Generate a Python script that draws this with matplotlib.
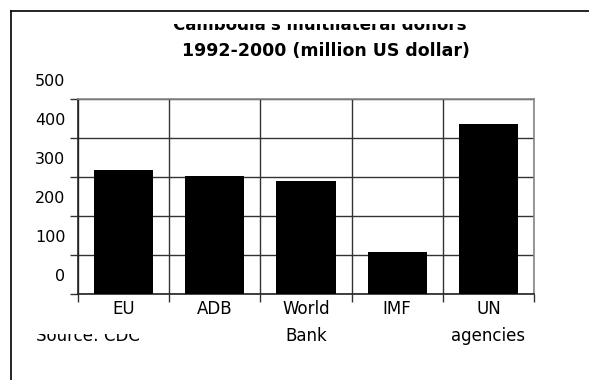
import matplotlib.pyplot as plt
import matplotlib.transforms as mtransforms
from matplotlib.lines import Line2D
import numpy as np

plt.rcParams['font.family'] = 'DejaVu Sans'

donors = ["EU", "ADB", "World\nBank", "IMF", "UN\nagencies"]
amounts = [318, 302, 290, 108, 435]
yticks = [0, 100, 200, 300, 400, 500]

W, H = 589, 380
fig = plt.figure(figsize=(W / 100, H / 100), dpi=100)
ax = fig.add_axes([78 / W, 1 - 294 / H, (534 - 78) / W, (294 - 99) / H])

x = np.arange(len(donors))
ax.bar(x, amounts, width=0.65, color="black", zorder=3)

ax.set_xlim(-0.5, len(donors) - 0.5)
ax.set_ylim(0, 500)

ax.set_xticks(x)
ax.set_xticklabels(donors, fontsize=12, linespacing=1.7)
ax.set_xticks(np.arange(len(donors) + 1) - 0.5, minor=True)
ax.tick_params(axis="x", which="major", length=0, pad=4)
ax.tick_params(axis="x", which="minor", length=6, width=1, color="#333333")

ax.set_yticks(yticks)
ax.set_yticklabels([str(v) for v in yticks], fontsize=11.5)
ax.tick_params(axis="y", length=6, width=1, color="#333333", pad=3)
# the labels sit half a step above their gridlines in the original
offset = mtransforms.ScaledTranslation(0, 0.19, fig.dpi_scale_trans)
for lab in ax.get_yticklabels():
    lab.set_transform(lab.get_transform() + offset)

ax.grid(axis="y", which="major", color="#333333", linewidth=1, zorder=0)
ax.grid(axis="x", which="minor", color="#333333", linewidth=1, zorder=0)

for side in ["top", "right"]:
    ax.spines[side].set_color("#888888")
    ax.spines[side].set_linewidth(1.2)
for side in ["left", "bottom"]:
    ax.spines[side].set_color("#222222")
    ax.spines[side].set_linewidth(1.2)

# outer frame (left and top only)
fig.add_artist(Line2D([11 / W, 11 / W], [0, 1 - 11 / H], transform=fig.transFigure,
                      color="black", linewidth=1.2))
fig.add_artist(Line2D([11 / W, 1], [1 - 11 / H, 1 - 11 / H], transform=fig.transFigure,
                      color="black", linewidth=1.2))

# title, first line is cut off at the top in the original
clip1 = mtransforms.TransformedBbox(
    mtransforms.Bbox([[0, 0], [1, 1 - 23.5 / H]]), fig.transFigure)
fig.text(320 / W, 1 - 30.5 / H, "Cambodia's multilateral donors", ha="center",
         va="baseline", fontsize=12, fontweight="bold", clip_on=True, clip_box=clip1)
fig.text(325.5 / W, 1 - 56 / H, "1992-2000 (million US dollar)", ha="center",
         va="baseline", fontsize=12.5, fontweight="bold")

clip2 = mtransforms.TransformedBbox(
    mtransforms.Bbox([[0, 0], [1, 1 - 334 / H]]), fig.transFigure)
fig.text(36 / W, 1 - 341 / H, "Source: CDC", ha="left", va="baseline",
         fontsize=12, clip_on=True, clip_box=clip2)

fig.savefig("out.png", dpi=100)
